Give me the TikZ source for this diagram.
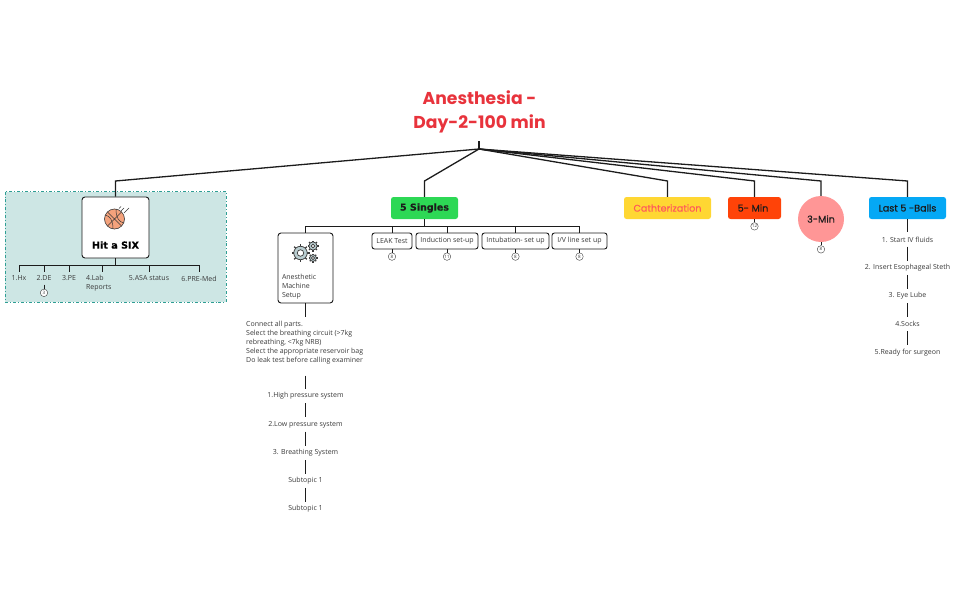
\documentclass[tikz,border=0pt]{standalone}
\usepackage{fontspec}
\usepackage{xcolor}
\setmainfont{Open Sans}
\newfontfamily\titlefont{Poppins}
\newfontfamily\boldishfont[FakeBold=0.5]{Poppins}
\newfontfamily\headfont[FakeBold=0.4]{DejaVu Sans Bold}
\usetikzlibrary{shapes,positioning,calc}

\definecolor{inktone}{HTML}{1C1C1C}
\definecolor{labeltone}{HTML}{3A3A3A}
\definecolor{titlered}{HTML}{E8333C}
\definecolor{panelfill}{HTML}{CDE6E4}
\definecolor{paneledge}{HTML}{2F9E94}
\definecolor{singlesgreen}{HTML}{2DD855}
\definecolor{cathyellow}{HTML}{FFD733}
\definecolor{cathtext}{HTML}{FF5A5A}
\definecolor{fiveorange}{HTML}{FF4308}
\definecolor{threepink}{HTML}{FF9696}
\definecolor{lastblue}{HTML}{05A8F5}
\definecolor{ballorange}{HTML}{F4A27C}
\definecolor{coggray}{HTML}{B9CDD0}

\tikzset{
	trunk/.style={draw=inktone, line width=1.3pt},
	twig/.style={draw=inktone, line width=0.9pt},
	leaf/.style={font=\fontsize{7}{9}\selectfont, text=labeltone, inner sep=0pt, minimum height=14pt, align=center},
	tag/.style={rectangle, rounded corners=2.5pt, draw=inktone, line width=0.9pt, fill=white, font=\fontsize{7}{9}\selectfont, text=labeltone, inner sep=0pt, minimum height=16pt},
	head/.style={rectangle, rounded corners=2.5pt, inner sep=0pt, minimum height=22pt, font=\boldishfont\fontsize{9.6}{12}\selectfont, text=inktone},
	badge/.style={circle, draw=labeltone, line width=0.4pt, fill=white, inner sep=0pt, minimum size=7.5pt, font=\fontsize{4.5}{5}\selectfont, text=labeltone},
	cog/.pic={
		\foreach \a in {0,45,...,315} \draw[line width=1.2pt, draw=labeltone] (\a:0.72*#1) -- (\a:#1);
		\draw[fill=coggray, draw=labeltone, line width=0.7pt] (0,0) circle (0.75*#1);
		\draw[fill=white, draw=labeltone, line width=0.7pt] (0,0) circle (0.36*#1);
	}
}

\begin{document}
\begin{tikzpicture}[x=1pt, y=-1pt]
	\useasboundingbox (0,0) rectangle (959,594);

	% panel behind the first branch
	\draw[draw=paneledge, fill=panelfill, line width=0.9pt, dash dot] (5,191.5) rectangle (226,302);

	\node[font=\titlefont\bfseries\fontsize{17.2}{24}\selectfont, text=titlered, align=center, minimum height=62pt, inner sep=0pt] (rootlabel) at (479.5,112) {Anesthesia -\\Day-2-100 min};
	\coordinate (roottail) at (479,141);
	\coordinate (hub) at (479,149);
	\coordinate (elbow) at (479,181);

	\node[rectangle, rounded corners=3pt, draw=inktone, line width=0.9pt, fill=white, minimum width=67pt, minimum height=61pt, inner sep=0pt] (hit) at (115.5,227.5) {};
	\node[font=\headfont\fontsize{9.6}{13}\selectfont, text=black] (hitlabel) at (115.5,245) {Hit a SIX};
	\node[head, fill=singlesgreen, minimum width=67pt, font=\headfont\fontsize{9.5}{12}\selectfont] (singles) at (424.5,208) {5 Singles};
	\node[head, fill=cathyellow, text=cathtext, minimum width=87pt] (cath) at (667.5,208) {Cathterization};
	\node[head, fill=fiveorange, minimum width=53pt] (fivemin) at (754.5,208) {\hspace{-3pt}5- Min};
	\node[circle, fill=threepink, inner sep=0pt, minimum size=46pt, font=\boldishfont\fontsize{9.6}{12}\selectfont, text=inktone] (threemin) at (821,219) {3-Min};
	\node[head, fill=lastblue, minimum width=77pt] (lastfive) at (907.5,208) {Last 5 -Balls};

	\foreach \n in {hit,singles,cath,fivemin,threemin,lastfive}
		\draw[trunk] (hub) -- (\n.north |- elbow) -- (\n.north);
	\draw[trunk] (roottail) -- (hub);

	% ball on the first branch
	\draw[fill=ballorange, draw=labeltone, line width=0.6pt] (114.5,219) circle (10);
	\draw[labeltone, line width=0.5pt] (107.5,212) -- (121.5,226) (121.5,212) -- (107.5,226);
	\draw[labeltone, line width=0.5pt] (105,215) .. controls (110,216) and (113,220) .. (113,229);
	\draw[labeltone, line width=0.5pt] (116,209) .. controls (116,218) and (119,222) .. (124,223);
	\draw[labeltone, line width=0.5pt] (121,211) -- (124,208) (124,213) -- (129,208) (119,208.5) -- (121,206.5);

	% first branch leaves
	\coordinate (hitbar) at (115.5,265);
	\draw[twig] (hit) -- (hitbar);
	\node[leaf, minimum height=12pt] (hx) at (19,278.5) {1.Hx};
	\node[leaf, minimum height=12pt] (de) at (44,278.5) {2.DE};
	\node[leaf, minimum height=12pt] (pe) at (69,278.5) {3.PE};
	\node[leaf, anchor=north, text width=32pt, align=left, inner ysep=2.5pt] (lab) at (102,272) {4.Lab\\Reports};
	\node[leaf, minimum height=12pt] (asa) at (149,278.5) {5.ASA status};
	\node[leaf, minimum height=12pt] (pre) at (199,278.5) {6.PRE-Med};
	\foreach \n in {hx,de,pe,lab,asa,pre}
		\draw[twig] (hitbar) -| (\n.north);
	\node[badge, below=4.2pt of de] (debadge) {3};
	\draw[twig] (de) -- (debadge);

	% second branch
	\coordinate (singlesbar) at (424.5,226);
	\draw[twig] (singles) -- (singlesbar);
	\node[rectangle, rounded corners=3pt, draw=inktone, line width=0.9pt, fill=white, minimum width=55pt, minimum height=70pt, inner sep=0pt] (machine) at (305.5,268) {};
	\node[leaf, align=left, text width=47pt] (machinelabel) at (305.5,287) {Anesthetic\\Machine\\Setup};
	\node[tag, minimum width=40pt] (leak) at (392,241) {LEAK Test};
	\node[tag, minimum width=62pt] (induction) at (447,241) {Induction set-up};
	\node[tag, minimum width=67pt] (intubation) at (515.5,241) {Intubation- set up};
	\node[tag, minimum width=55pt] (ivline) at (579.5,241) {I/V line set up};
	\foreach \n in {machine,leak,induction,intubation,ivline}
		\draw[twig] (singlesbar) -| (\n.north);
	\node[badge, below=3.2pt of leak] (leakbadge) {8};
	\node[badge, below=3.2pt of induction] (inductionbadge) {11};
	\node[badge, below=3.2pt of intubation] (intubationbadge) {8};
	\node[badge, below=3.2pt of ivline] (ivlinebadge) {8};
	\foreach \n in {leak,induction,intubation,ivline}
		\draw[twig] (\n) -- (\n badge);

	\pic at (300.5,253) {cog=9};
	\pic at (313,246) {cog=5.5};
	\pic at (313,258) {cog=4.5};

	\node[leaf, align=left, anchor=west] (note) at (246,342.5) {Connect all parts.\\Select the breathing circuit (>7kg\\rebreathing, <7kg NRB)\\Select the appropriate reservoir bag\\Do leak test before calling examiner};
	\coordinate (notetop) at (305.5,317);
	\coordinate (notefoot) at (305.5,375.5);
	\node[leaf] (high) at (305.5,396) {1.High pressure system};
	\node[leaf, below=14pt of high] (low) {2.Low pressure system};
	\node[leaf, below=14pt of low] (breathing) {3. Breathing System};
	\node[leaf, below=13.5pt of breathing] (subone) {Subtopic 1};
	\node[leaf, below=14pt of subone] (subtwo) {Subtopic 1};
	\draw[twig] (machine) -- (notetop);
	\draw[twig] (notefoot) -- (high);
	\draw[twig] (high) -- (low);
	\draw[twig] (low) -- (breathing);
	\draw[twig] (breathing) -- (subone);
	\draw[twig] (subone) -- (subtwo);

	% small badges on the right
	\node[badge, below=3.2pt of fivemin] (fiveminbadge) {12};
	\node[badge, below=3.2pt of threemin] (threeminbadge) {8};
	\draw[twig] (fivemin) -- (fiveminbadge);
	\draw[twig] (threemin) -- (threeminbadge);

	% last branch
	\node[leaf] (fluids) at (907.5,239.5) {1. Start IV fluids};
	\node[leaf, below=13.8pt of fluids] (steth) {2. Insert Esophageal Steth};
	\node[leaf, below=13.8pt of steth] (lube) {3. Eye Lube};
	\node[leaf, below=13.8pt of lube] (socks) {4.Socks};
	\node[leaf, below=13.8pt of socks] (ready) {5.Ready for surgeon};
	\draw[twig] (lastfive) -- (fluids);
	\draw[twig] (fluids) -- (steth);
	\draw[twig] (steth) -- (lube);
	\draw[twig] (lube) -- (socks);
	\draw[twig] (socks) -- (ready);
\end{tikzpicture}
\end{document}
